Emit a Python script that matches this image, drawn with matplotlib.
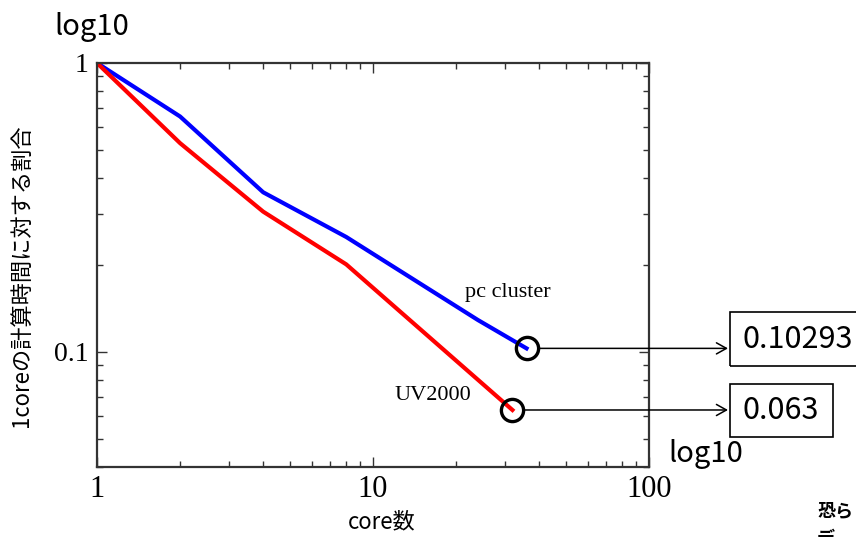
import matplotlib.pyplot as plt
from matplotlib.patches import Rectangle
from matplotlib.ticker import LogLocator, NullFormatter

# data
pc_cores = [1, 2, 4, 8, 24, 36]
pc_ratio = [1.0, 0.653, 0.357, 0.25, 0.129, 0.10293]
uv_cores = [1, 2, 4, 8, 32]
uv_ratio = [1.0, 0.528, 0.306, 0.201, 0.063]

x_ticks = [1, 10, 100]
x_labels = ["1", "10", "100"]
y_ticks = [0.1, 1]
y_labels = ["0.1", "1"]

SERIF = ["Liberation Serif", "DejaVu Serif"]
SANS = ["Noto Sans CJK JP", "DejaVu Sans"]

W, H = 856, 537
fig = plt.figure(figsize=(W / 100, H / 100), dpi=100)
ax = fig.add_axes([97 / W, (H - 467) / H, 552 / W, 404 / H])

ax.plot(pc_cores, pc_ratio, color="#0000ff", lw=3)
ax.plot(uv_cores, uv_ratio, color="#ff0000", lw=3)

ax.set_xscale("log")
ax.set_yscale("log")
ax.set_xlim(1, 100)
ax.set_ylim(0.04, 1)

ax.set_xticks(x_ticks, x_labels)
ax.set_yticks(y_ticks, y_labels)
ax.xaxis.set_minor_locator(LogLocator(subs=range(2, 10)))
ax.yaxis.set_minor_locator(LogLocator(subs=range(2, 10)))
ax.xaxis.set_minor_formatter(NullFormatter())
ax.yaxis.set_minor_formatter(NullFormatter())
ax.tick_params(which="both", direction="in", top=True, right=True,
               color="#333333", width=1)
ax.tick_params(which="major", length=7)
ax.tick_params(which="minor", length=4)
ax.tick_params(axis="x", which="major", pad=6)
ax.tick_params(axis="y", which="major", pad=6)
for lab in ax.get_xticklabels():
    lab.set_family(SERIF)
    lab.set_fontsize(22)
for lab in ax.get_yticklabels():
    lab.set_family(SERIF)
    lab.set_fontsize(20)
for sp in ax.spines.values():
    sp.set_color("#333333")
    sp.set_linewidth(1.6)

# circles at series ends
ends = [(pc_cores[-1], pc_ratio[-1]), (uv_cores[-1], uv_ratio[-1])]
for x, y in ends:
    ax.plot([x], [y], marker="o", ms=16, mfc="none", mec="black", mew=2.4,
            clip_on=False)

# arrows and value boxes
boxes = [(730, 312, 140, 54, "0.10293"), (730, 384, 103, 53, "0.063")]
for (x, y), (bx, by, bw, bh, label) in zip(ends, boxes):
    px, py = ax.transData.transform((x, y))
    ax.annotate("", xy=(bx - 2, py), xycoords="figure pixels",
                xytext=(px, py), textcoords="figure pixels",
                arrowprops=dict(arrowstyle="->,head_length=0.36,head_width=0.2",
                                mutation_scale=20, lw=1.1, color="black",
                                shrinkA=9, shrinkB=0))
    fig.add_artist(Rectangle((bx / W, (H - by - bh) / H), bw / W, bh / H,
                             transform=fig.transFigure, fill=False,
                             lw=1.2, ec="black"))
    fig.text((bx + 12) / W, 1 - (by + bh / 2) / H, label, family=SANS,
             fontsize=22, ha="left", va="center")

# series labels
fig.text(508 / W, 1 - 292 / H, "pc cluster", family=SERIF, fontsize=16,
         ha="center", va="center")
fig.text(433 / W, 1 - 395 / H, "UV2000", family=SERIF, fontsize=16,
         ha="center", va="center")

# axis captions
fig.text(92 / W, 1 - 27 / H, "log10", family=SANS, fontsize=21,
         ha="center", va="center")
fig.text(706 / W, 1 - 454 / H, "log10", family=SANS, fontsize=21,
         ha="center", va="center")
fig.text(382 / W, 1 - 522 / H, "core数", family=SANS, fontsize=16,
         ha="center", va="center")
fig.text(21 / W, 1 - 276 / H, "1coreの計算時間に対する割合", family=SANS,
         fontsize=16, rotation=90, ha="center", va="center")

# note at bottom right (second line runs off the page as in the source)
fig.text(817 / W, 1 - 511 / H, "恐ら", family=SANS, fontsize=13,
         fontweight="bold", ha="left", va="center")
fig.text(817 / W, 1 - 538 / H, "デ", family=SANS, fontsize=13,
         fontweight="bold", ha="left", va="center")

fig.savefig("out.png", dpi=100)
